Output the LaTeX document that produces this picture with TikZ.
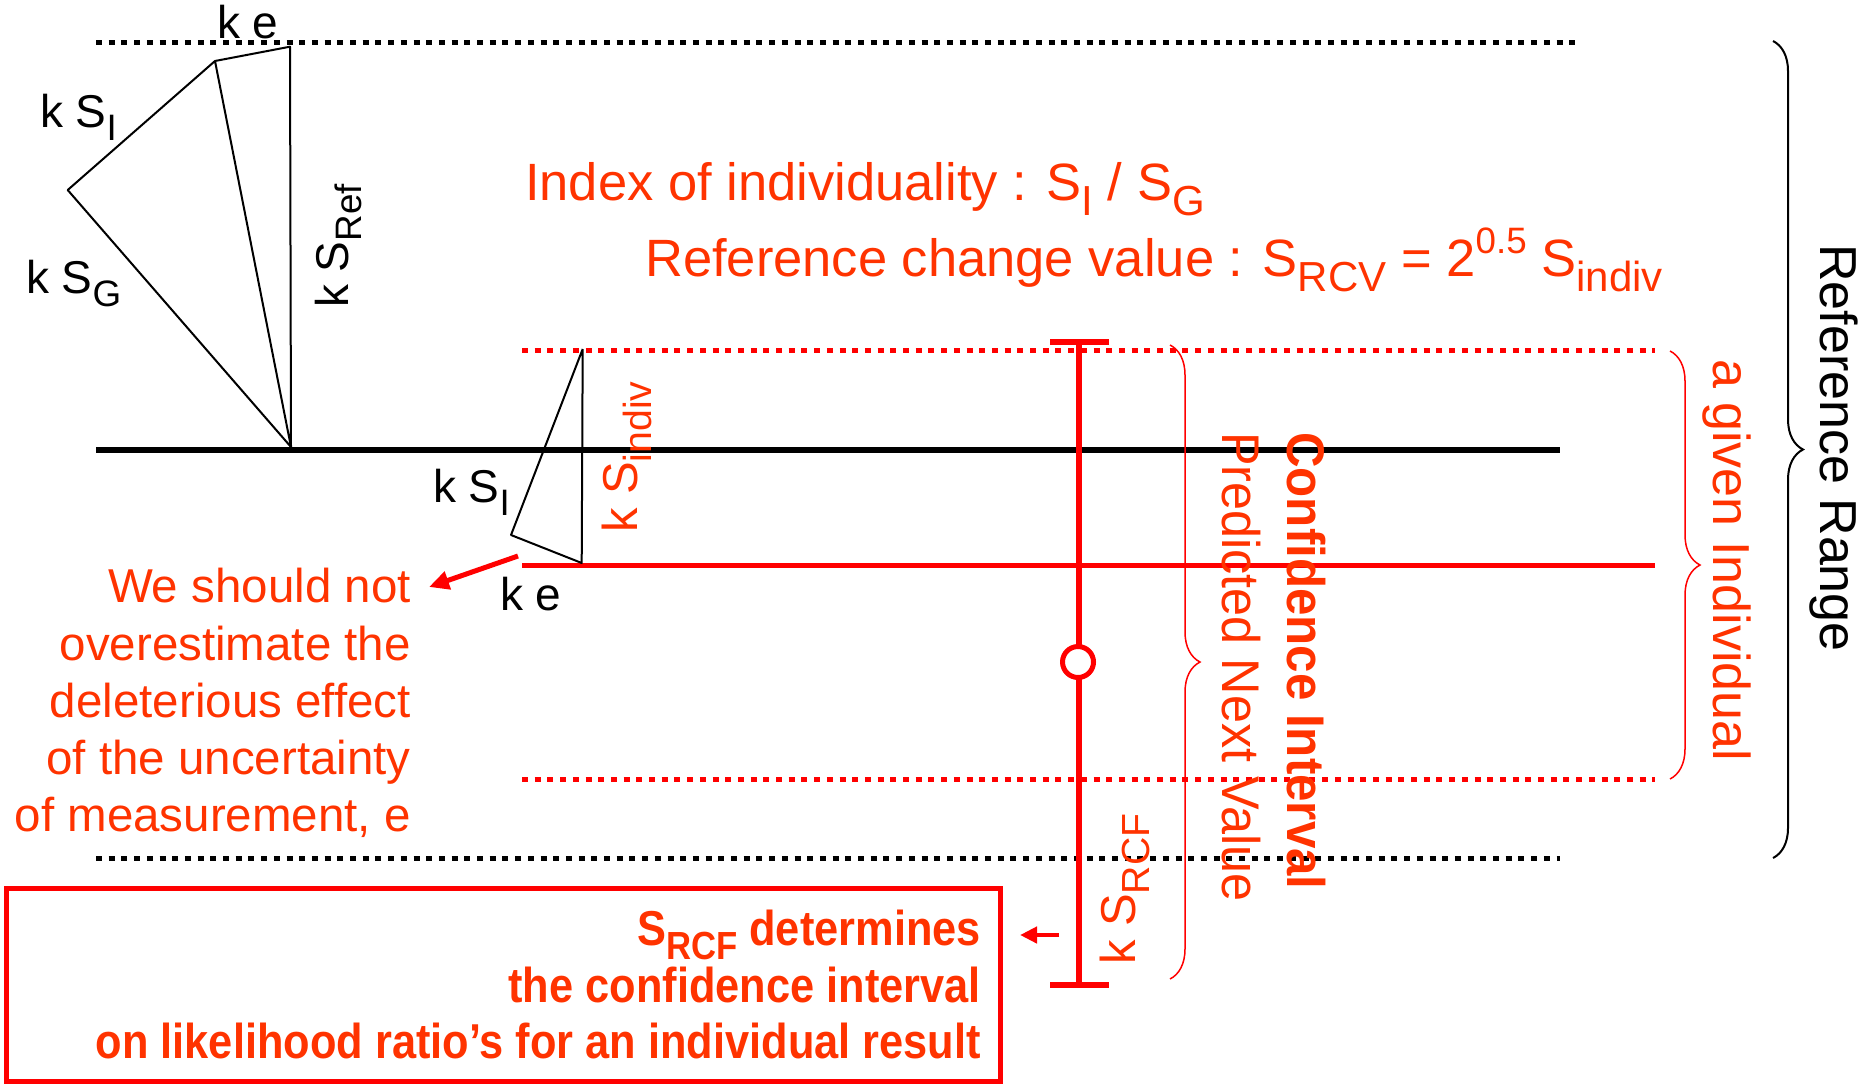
\documentclass[tikz,border=0pt]{standalone}
\usepackage{fontspec}
\setmainfont{Liberation Sans}
\newfontfamily\condfont[FakeStretch=0.95]{Liberation Sans}
\newfontfamily\condbfont[FakeStretch=0.885]{Liberation Sans Bold}
\newfontfamily\condcifont[FakeStretch=0.93]{Liberation Sans Bold}
\usetikzlibrary{arrows.meta,decorations.pathreplacing}
\definecolor{lred}{RGB}{255,0,0}
\definecolor{tred}{RGB}{255,51,0}
\newcommand{\lsub}[1]{\raisebox{-0.3em}{\scalebox{0.8}{#1}}}
\newcommand{\lsup}[1]{\raisebox{0.42em}{\scalebox{0.7}{#1}}}
\begin{document}
\begin{tikzpicture}[x=1pt,y=-1pt,
  blab/.style={font=\fontsize{46}{55}\selectfont, inner sep=0pt, text=black},
  rlab/.style={font=\fontsize{49}{58}\selectfont, inner sep=0pt, text=tred},
  titlelab/.style={font=\fontsize{52.5}{60}\selectfont, inner sep=0pt, text=tred},
  notelab/.style={font=\fontsize{47.5}{56}\selectfont, inner sep=0pt, text=tred, anchor=base east},
  boxlab/.style={font=\condbfont\fontsize{49}{58}\selectfont, inner sep=0pt, text=tred, anchor=base east},
  dotblack/.style={line width=5pt, dash pattern=on 6pt off 6.7pt, black},
  dotred/.style={line width=5pt, dash pattern=on 6pt off 6.7pt, lred},
  thin/.style={line width=2pt, black, line join=round},
  errbar/.style={line width=6pt, lred},
  rarrow/.style={line width=5pt, lred, -{Triangle[length=20pt,width=18pt]}},
  bracestyle/.style={decorate, decoration={brace, amplitude=30pt}},
]
\useasboundingbox (0,0) rectangle (1870,1085);

% horizontal lines
\coordinate (tl1) at (96,42);   \coordinate (tl2) at (1577,42);
\coordinate (ml1) at (96,450);  \coordinate (ml2) at (1560,450);
\coordinate (bl1) at (96,858);  \coordinate (bl2) at (1560,858);
\coordinate (ru1) at (522,350); \coordinate (ru2) at (1655,350);
\coordinate (rd1) at (522,779); \coordinate (rd2) at (1655,779);
\coordinate (rs1) at (522,565); \coordinate (rs2) at (1655,565);
\draw[dotblack] (tl1) -- (tl2);
\draw[dotblack] (bl1) -- (bl2);
\draw[line width=6.5pt, black] (ml1) -- (ml2);
\draw[dotred] (ru1) -- (ru2);
\draw[dotred] (rd1) -- (rd2);
\draw[line width=5pt, lred] (rs1) -- (rs2);

% big triangles
\coordinate (A) at (67.7,190);
\coordinate (B) at (215,61);
\coordinate (C) at (290,46.7);
\coordinate (D) at (291,447);
\draw[thin] (D) -- (A) -- (B) -- (C) -- (D) -- (B);

% small triangle
\coordinate (T) at (582.7,349);
\coordinate (L) at (511,535);
\coordinate (Bm) at (581.7,563);
\draw[thin] (T) -- (L) -- (Bm) -- (T);

% black labels
\node[blab, anchor=base west] (ke1) at (217,38) {k e};
\node[blab, anchor=base west] (ksi1) at (40,127) {k S\lsub{I}};
\node[blab, anchor=base west] (ksg) at (26,293) {k S\lsub{G}};
\node[blab, anchor=base west, rotate=90] (ksref) at (348,308) {k S\lsub{Ref}};
\node[blab, anchor=base west] (ksi2) at (433,502) {k S\lsub{I}};
\node[blab, anchor=base west] (ke2) at (500,610) {k e};

% red rotated labels
\node[rlab, anchor=base west, rotate=90] (ksindiv) at (637,533) {k S\lsub{indiv}};
\node[rlab, anchor=base west, rotate=90] (ksrcf) at (1135,965) {k S\lsub{RCF}};

% titles
\node[titlelab, anchor=base west] (idx) at (525,200) {Index of individuality : S\lsub{I} / S\lsub{G}};
\node[titlelab, anchor=base west] (rcv) at (645,276) {Reference change value : S\lsub{RCV} = 2\lsup{0.5} S\lsub{indiv}};

% note on left
\node[notelab] (n1) at (411,602) {We should not};
\node[notelab] (n2) at (411,660) {overestimate the};
\node[notelab] (n3) at (411,717) {deleterious effect};
\node[notelab] (n4) at (411,774) {of the uncertainty};
\node[notelab] (n5) at (411,831) {of measurement, e};
\coordinate (a1s) at (518,556);
\coordinate (a1e) at (429,587);
\draw[rarrow] (a1s) -- (a1e);

% error bar
\coordinate (eb1) at (1079,342); \coordinate (eb2) at (1079,985);
\coordinate (c1a) at (1050,342); \coordinate (c1b) at (1109,342);
\coordinate (c2a) at (1050,985); \coordinate (c2b) at (1109,985);
\draw[errbar] (eb1) -- (eb2);
\draw[errbar] (c1a) -- (c1b);
\draw[errbar] (c2a) -- (c2b);
\node[circle, draw=lred, line width=5pt, fill=white, minimum size=31pt, inner sep=0pt] (pt) at (1078,662) {};

% braces
\coordinate (pb1) at (1170,345); \coordinate (pb2) at (1170,979);
\draw[bracestyle, lred, line width=1.5pt] (pb1) -- (pb2);
\coordinate (ib1) at (1670,351); \coordinate (ib2) at (1670,779);
\draw[bracestyle, lred, line width=1.5pt] (ib1) -- (ib2);
\coordinate (rb1) at (1773,41); \coordinate (rb2) at (1773,858);
\draw[bracestyle, black, line width=2pt] (rb1) -- (rb2);

\node[inner sep=0pt, text=tred, font=\condfont\fontsize{53}{60}\selectfont, anchor=base west, rotate=-90] (pnv) at (1222,432) {Predicted Next Value};
\node[inner sep=0pt, text=tred, font=\condcifont\fontsize{53}{60}\selectfont, anchor=base west, rotate=-90] (ci) at (1287,432) {Confidence Interval};
\node[inner sep=0pt, text=tred, font=\fontsize{52}{60}\selectfont, anchor=base west, rotate=-90] (gi) at (1713,359) {a given Individual};
\node[inner sep=0pt, text=black, font=\fontsize{52}{60}\selectfont, anchor=base west, rotate=-90] (rr) at (1820,244) {Reference Range};

% box
\coordinate (bx1) at (6.5,888.5); \coordinate (bx2) at (1000.5,1081.5);
\draw[line width=5pt, lred] (bx1) rectangle (bx2);
\node[boxlab] (b1) at (981,945) {S\lsub{RCF} determines};
\node[boxlab] (b2) at (981,1002) {the confidence interval};
\node[boxlab] (b3) at (981,1058) {on likelihood ratio’s for an individual result};
\coordinate (a2s) at (1059,935);
\coordinate (a2e) at (1020,935);
\draw[line width=4.5pt, lred, -{Triangle[length=17pt,width=16pt]}] (a2s) -- (a2e);
\end{tikzpicture}
\end{document}
